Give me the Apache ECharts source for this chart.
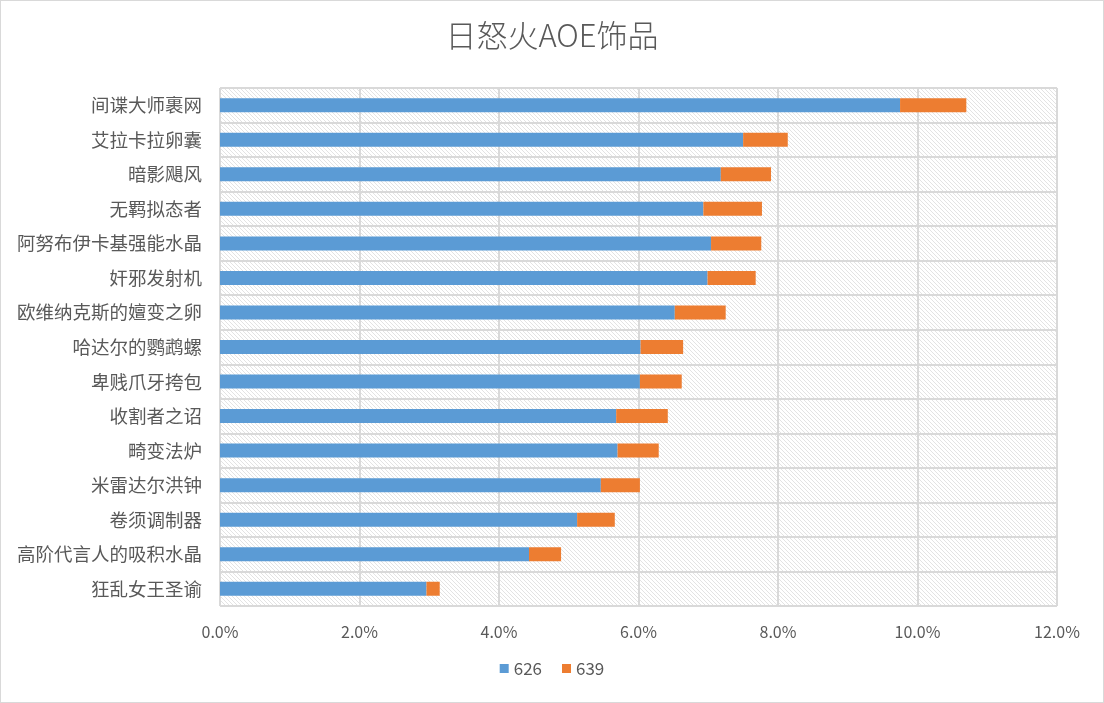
<!DOCTYPE html>
<html>
<head>
<meta charset="utf-8">
<script src="https://cdn.jsdelivr.net/npm/echarts@6/dist/echarts.min.js"></script>
<style>
html,body{margin:0;padding:0;background:#fff;}
#c{width:1104px;height:703px;box-sizing:border-box;border:1px solid #d9d9d9;}
</style>
</head>
<body>
<div id="c"></div>
<script>
const categories = ['间谍大师裹网','艾拉卡拉卵囊','暗影飓风','无羁拟态者','阿努布伊卡基强能水晶','奸邪发射机','欧维纳克斯的嬗变之卵','哈达尔的鹦鹉螺','卑贱爪牙挎包','收割者之诏','畸变法炉','米雷达尔洪钟','卷须调制器','高阶代言人的吸积水晶','狂乱女王圣谕'];
const s626 = [9.75,7.50,7.18,6.93,7.04,6.99,6.52,6.03,6.02,5.68,5.70,5.46,5.12,4.43,2.96];
const s639 = [0.95,0.64,0.72,0.84,0.72,0.69,0.73,0.61,0.60,0.74,0.59,0.56,0.54,0.46,0.19];
const xTicks = [0,2,4,6,8,10,12];

const pc = document.createElement('canvas');
pc.width = 4; pc.height = 4;
const g = pc.getContext('2d');
g.fillStyle = '#ffffff'; g.fillRect(0,0,4,4);
g.strokeStyle = '#e3e3e3'; g.lineWidth = 1;
g.beginPath();
for (let k = -4; k <= 8; k += 4) { g.moveTo(k, 0); g.lineTo(k + 4, 4); }
g.stroke();

const chart = echarts.init(document.getElementById('c'));
chart.setOption({
  animation: false,
  title: {text: '日怒火AOE饰品', left: 'center', top: 14,
    textStyle: {fontFamily: 'Noto Sans CJK SC', fontSize: 31, fontWeight: 300, color: '#595959'}},
  legend: {bottom: 20, left: 'center', itemWidth: 9, itemHeight: 9, itemGap: 20, icon: 'rect',
    textStyle: {fontFamily: 'Noto Sans CJK SC', fontSize: 17, color: '#595959'}},
  grid: {left: 219, right: 46, top: 87, bottom: 96, show: true,
    backgroundColor: {image: pc, repeat: 'repeat'}, borderColor: '#d9d9d9', borderWidth: 1},
  xAxis: {type: 'value', min: xTicks[0], max: xTicks[xTicks.length-1], interval: 2,
    axisLine: {show: false}, axisTick: {show: false},
    splitLine: {lineStyle: {color: '#d9d9d9', width: 2}},
    axisLabel: {formatter: v => v.toFixed(1) + '%', margin: 18,
      fontFamily: 'Noto Sans CJK SC', fontSize: 16, color: '#595959'}},
  yAxis: {type: 'category', data: categories, inverse: true,
    axisLine: {show: false}, axisTick: {show: false},
    splitLine: {show: true, lineStyle: {color: '#d9d9d9', width: 2}},
    axisLabel: {margin: 18, fontFamily: 'Noto Sans CJK SC', fontSize: 18.5, color: '#595959'}},
  series: [
    {name: '626', type: 'bar', stack: 't', data: s626, barWidth: 14, itemStyle: {color: '#5b9bd5'}},
    {name: '639', type: 'bar', stack: 't', data: s639, barWidth: 14, itemStyle: {color: '#ed7d31'}}
  ]
});
</script>
</body>
</html>
